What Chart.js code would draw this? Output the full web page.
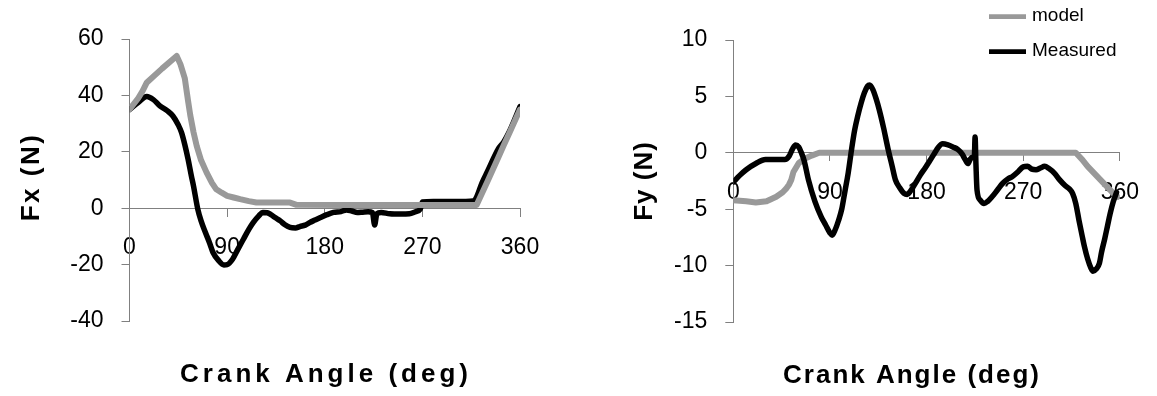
<!DOCTYPE html>
<html>
<head>
<meta charset="utf-8">
<script src="https://cdn.jsdelivr.net/npm/chart.js@4.4.1/dist/chart.umd.min.js"></script>
<style>
body { margin: 0; background: #fff; }
#wrap { position: relative; width: 1157px; height: 396px; }
canvas { position: absolute; top: 0; }
#fx { left: 0; }
#fy { left: 600px; }
</style>
</head>
<body>
<div id="wrap">
<canvas id="fx" width="600" height="396"></canvas>
<canvas id="fy" width="557" height="396"></canvas>
</div>
<script>
// crank angle (deg) and force (N)
const fxModelAngle = [0, 8, 12, 16, 30, 43.5, 47, 51, 54, 56, 59, 62, 66, 71, 76, 80, 85, 90, 96, 102, 110, 117, 130, 148, 154, 200, 250, 300, 320, 330, 340, 345, 350, 360];
const fxModel      = [35, 39, 41.5, 44.6, 49.5, 54, 51, 46, 38, 33, 27, 22, 17, 12.7, 9, 6.7, 5.5, 4.4, 3.8, 3.2, 2.5, 2, 2, 2, 1.2, 1.1, 1.1, 1.1, 1.1, 9.5, 18, 22.3, 26.5, 35];

const fxMeasuredAngle = [0, 8, 16, 22, 28, 35, 40, 45, 48, 51, 54, 57, 59, 63, 66, 70, 74, 77, 82, 87, 90, 95, 100, 105, 110, 114, 119, 123, 127, 130, 135, 139, 143, 148, 153, 157, 162, 166, 171, 176, 182, 188, 195, 200, 205, 210, 215, 220, 224, 226, 228, 232, 240, 250, 258, 264, 268, 270, 280, 290, 300, 310, 317, 320, 325, 330, 340, 345, 350, 360];
const fxMeasured      = [35, 37.5, 39.6, 38.5, 36.3, 34.5, 32.7, 29.5, 26.8, 22.5, 17.4, 11.5, 7.9, -0.4, -4.5, -8.6, -12.5, -15.7, -18.5, -20.1, -20, -18.1, -14.5, -11, -7.5, -5.1, -2.8, -1.5, -1.6, -2.2, -3.5, -4.5, -5.8, -6.8, -7, -6.5, -6, -5.1, -4.2, -3.3, -2.3, -1.5, -1.2, -0.6, -1, -1.5, -1.4, -1.3, -1.6, -6, -2, -1.5, -2, -2.1, -2, -1.2, -0.4, 2.2, 2.4, 2.4, 2.4, 2.4, 2.6, 4, 9, 13, 21, 23.5, 27, 36];

const fyModelAngle = [0, 12, 21, 31, 40, 46, 49, 52, 54, 56, 61, 67, 73, 80, 319, 325, 330, 336, 342, 348, 354, 358];
const fyModel      = [-4.2, -4.3, -4.4, -4.3, -3.9, -3.5, -3.2, -2.8, -2.4, -1.7, -0.9, -0.5, -0.25, 0, 0, -0.6, -1.2, -1.8, -2.4, -3.0, -3.6, -3.9];

const fyMeasuredAngle = [0, 6, 12, 21, 30, 48, 52, 55, 58, 61, 63, 66, 70, 76, 82, 86, 90, 92, 95, 98, 101, 104, 107, 110, 113, 116, 119, 122, 125, 127, 130, 133, 136, 140, 144, 148, 151, 155, 159, 162, 165, 169, 174, 179, 183, 187, 191, 195, 200, 205, 209, 213, 216, 218.5, 220.5, 222.5, 224.5, 225.2, 226, 227, 230, 233.5, 237, 241, 246, 251, 256, 260, 265, 270, 274, 278, 282, 286, 290, 294, 299, 304, 309, 313, 316, 319, 322, 325, 327, 330, 333, 335, 338, 341, 343, 346, 348.5, 351, 354, 357];
const fyMeasured      = [-2.6, -2.0, -1.5, -0.95, -0.6, -0.6, -0.3, 0.3, 0.7, 0.5, 0.1, -0.7, -2.4, -4.3, -5.7, -6.4, -7.1, -7.3, -6.8, -6.0, -5.0, -3.4, -1.8, 0.2, 2.0, 3.3, 4.4, 5.3, 5.9, 6.0, 5.6, 4.8, 3.8, 2.2, 0.4, -1.2, -2.4, -3.1, -3.6, -3.7, -3.4, -2.8, -2.0, -1.3, -0.7, -0.1, 0.5, 0.8, 0.7, 0.5, 0.3, -0.1, -0.6, -0.95, -0.6, -0.4, -0.4, 1.4, -1.0, -3.3, -4.2, -4.5, -4.3, -3.9, -3.3, -2.7, -2.3, -2.1, -1.7, -1.25, -1.2, -1.45, -1.5, -1.35, -1.2, -1.4, -1.8, -2.4, -2.9, -3.2, -3.6, -4.5, -6.0, -7.4, -8.3, -9.4, -10.2, -10.5, -10.3, -9.8, -8.8, -7.6, -6.5, -5.4, -4.3, -3.5];

const seriesNames = ['model', 'Measured'];
const xTitle = 'Crank Angle (deg)';

const GREY = '#999999';
const AXIS = '#808080';
const FONT = '"Liberation Sans", Arial, Helvetica, sans-serif';

function pts(xs, ys) {
    return xs.map((x, i) => ({ x: x, y: ys[i] }));
}

// free text: axis titles
const textPlugin = {
    id: 'texts',
    afterDraw(chart, args, opts) {
        const ctx = chart.ctx;
        for (const t of opts.items || []) {
            ctx.save();
            ctx.font = t.font;
            ctx.fillStyle = '#000';
            ctx.letterSpacing = (t.spacing || 0) + 'px';
            ctx.textAlign = 'center';
            ctx.textBaseline = 'alphabetic';
            ctx.translate(t.x, t.y);
            if (t.rotate) ctx.rotate(-Math.PI / 2);
            ctx.fillText(t.text, 0, 0);
            ctx.restore();
        }
    }
};

// legend made of short line samples
const lineLegend = {
    id: 'lineLegend',
    afterDraw(chart, args, o) {
        if (!o.display) return;
        const ctx = chart.ctx;
        chart.data.datasets.forEach((ds, i) => {
            const y = o.y + i * o.rowGap;
            ctx.save();
            ctx.strokeStyle = ds.borderColor;
            ctx.lineWidth = o.lineWidth;
            ctx.beginPath();
            ctx.moveTo(o.x, y);
            ctx.lineTo(o.x + o.lineLength, y);
            ctx.stroke();
            ctx.font = o.font;
            ctx.fillStyle = '#000';
            ctx.textAlign = 'left';
            ctx.textBaseline = 'middle';
            ctx.fillText(ds.label, o.x + o.lineLength + o.gap, y - 1);
            ctx.restore();
        });
    }
};

function makeChart(id, cfg) {
    return new Chart(document.getElementById(id), {
        type: 'line',
        data: {
            datasets: [{
                label: seriesNames[0],
                data: pts(cfg.modelX, cfg.modelY),
                borderColor: GREY,
                backgroundColor: GREY,
                borderWidth: 6,
                pointRadius: 0,
                tension: 0,
                order: cfg.modelOrder
            }, {
                label: seriesNames[1],
                data: pts(cfg.measX, cfg.measY),
                borderColor: '#000',
                backgroundColor: '#000',
                borderWidth: 5.5,
                pointRadius: 0,
                cubicInterpolationMode: 'monotone',
                order: cfg.measOrder
            }]
        },
        options: {
            responsive: false,
            animation: false,
            devicePixelRatio: 1,
            layout: { padding: cfg.padding },
            elements: { line: { borderJoinStyle: 'round', borderCapStyle: 'round' } },
            scales: {
                x: {
                    type: 'linear',
                    min: 0,
                    max: 360,
                    position: { y: 0 },
                    ticks: { stepSize: 90, padding: 18, color: '#000', font: { family: FONT, size: 23 } },
                    grid: { drawOnChartArea: false, tickLength: 8, color: AXIS },
                    border: { color: AXIS, width: 1 }
                },
                y: {
                    min: cfg.yMin,
                    max: cfg.yMax,
                    afterFit: s => { s.width = cfg.yWidth; },
                    ticks: { stepSize: cfg.yStep, padding: 18, color: '#000', font: { family: FONT, size: 23 } },
                    grid: { drawOnChartArea: false, tickLength: 8, color: AXIS },
                    border: { color: AXIS, width: 1 }
                }
            },
            plugins: {
                legend: { display: false },
                tooltip: { enabled: false },
                texts: { items: cfg.titles },
                lineLegend: cfg.legend
            }
        },
        plugins: [textPlugin, lineLegend]
    });
}

makeChart('fx', {
    modelX: fxModelAngle, modelY: fxModel,
    measX: fxMeasuredAngle, measY: fxMeasured,
    modelOrder: 0, measOrder: 1,
    yMin: -40, yMax: 60, yStep: 20, yWidth: 129.5,
    padding: { left: 0, top: 39, right: 80, bottom: 75 },
    titles: [
        { text: xTitle, x: 326, y: 382, font: 'bold 26px ' + FONT, spacing: 4 },
        { text: 'Fx (N)', x: 38.5, y: 177, font: 'bold 26px ' + FONT, spacing: 2.5, rotate: true }
    ],
    legend: { display: false }
});

makeChart('fy', {
    modelX: fyModelAngle, modelY: fyModel,
    measX: fyMeasuredAngle, measY: fyMeasured,
    modelOrder: 1, measOrder: 0,
    yMin: -15, yMax: 10, yStep: 5, yWidth: 133.3,
    padding: { left: 0, top: 40, right: 31, bottom: 74 },
    titles: [
        { text: xTitle, x: 312, y: 383, font: 'bold 26px ' + FONT, spacing: 2 },
        { text: 'Fy (N)', x: 52, y: 181, font: 'bold 26px ' + FONT, spacing: 1, rotate: true }
    ],
    legend: { display: true, x: 389, y: 16.7, rowGap: 35, lineLength: 37, lineWidth: 4.7, gap: 6, font: '19px ' + FONT }
});
</script>
</body>
</html>
